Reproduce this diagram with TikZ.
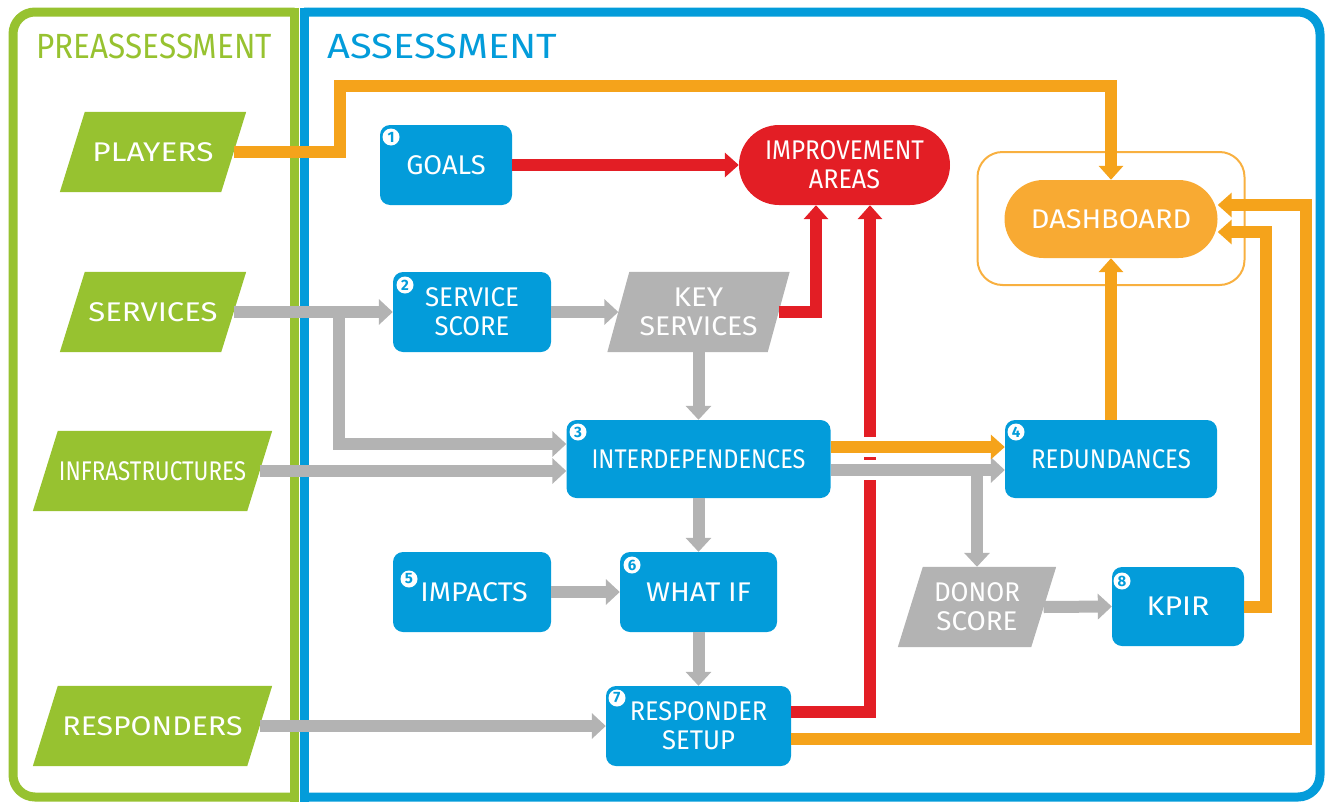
\documentclass[tikz,border=0pt]{standalone}
\usepackage{fontspec}
\setmainfont{Fira Sans}
\usetikzlibrary{arrows.meta,shapes.misc}
\definecolor{greenc}{HTML}{97C230}
\definecolor{bluec}{HTML}{039CDA}
\definecolor{redc}{HTML}{E31E25}
\definecolor{orangec}{HTML}{F5A31B}
\definecolor{dashc}{HTML}{F8AA33}
\definecolor{dashframec}{HTML}{F8B040}
\definecolor{grayc}{HTML}{B3B3B3}
\pgfdeclarelayer{bg}
\pgfsetlayers{bg,main}
\newcommand\sx[2]{\scalebox{#1}[1]{#2}}
\newcommand\paraFill[3]{%
  \begin{pgfonlayer}{bg}
  \fill[#3] ([xshift=#2]#1.north west) -- ([xshift=#2]#1.north east) -- ([xshift=-#2]#1.south east) -- ([xshift=-#2]#1.south west) -- cycle;
  \end{pgfonlayer}}
\begin{document}
\begin{tikzpicture}[x=1pt,y=-1pt,
  txt/.style={font=\fontsize{27}{29}\selectfont, text=white, align=center},
  bbox/.style={txt, fill=bluec, rounded corners=10pt, inner sep=0pt, minimum height=80pt},
  stad/.style={txt, rounded rectangle, inner sep=0pt, minimum height=80pt},
  para/.style={txt, inner sep=0pt, minimum height=80pt},
  badge/.style={circle, fill=white, inner sep=0pt, minimum size=17pt, text=bluec, font=\bfseries\fontsize{15}{15}\selectfont},
  title/.style={font=\fontsize{35}{35}\selectfont, anchor=west},
  conn/.style={line width=12pt},
  garrow/.style={conn, draw=grayc, -{Triangle[length=14pt,width=25pt]}},
  rarrow/.style={conn, draw=redc, -{Triangle[length=14pt,width=24pt]}},
  oarrow/.style={conn, draw=orangec, -{Triangle[length=14pt,width=24pt]}},
  gap/.style={draw=white, line width=20pt}
]
\useasboundingbox (0,0) rectangle (1325,803);
% frames
\begin{pgfonlayer}{bg}
\draw[greenc, line width=9pt, rounded corners=22pt] (294.5,12) -- (13,12) -- (13,797) -- (294.5,797);
\draw[greenc, line width=9pt] (294.5,7.5) -- (294.5,801.5);
\draw[bluec, line width=9pt, rounded corners=22pt] (304,12) -- (1320,12) -- (1320,797) -- (304,797);
\draw[bluec, line width=9pt] (304,7.5) -- (304,801.5);
\end{pgfonlayer}
\node[title, text=greenc] (pretitle) at (33,46) {\sx{0.9}{PREASSESSMENT}};
\node[title, text=bluec] (asstitle) at (324,46) {\sx{1.14}{ASSESSMENT}};

% preassessment inputs
\node[para, minimum width=161pt] (players) at (153,152) {\sx{1.17}{PLAYERS}};
\paraFill{players}{12.5pt}{greenc}
\node[para, minimum width=161pt] (services) at (153,312) {\sx{1.15}{SERVICES}};
\paraFill{services}{12.5pt}{greenc}
\node[para, minimum width=214pt] (infra) at (152.5,471) {\sx{0.83}{INFRASTRUCTURES}};
\paraFill{infra}{12.5pt}{greenc}
\node[para, minimum width=214pt] (responders) at (152.5,726) {\sx{1.12}{RESPONDERS}};
\paraFill{responders}{12.5pt}{greenc}

% gray data
\node[para, minimum width=160pt] (keysvc) at (698.5,312) {\sx{1.1}{KEY}\\\sx{1.05}{SERVICES}};
\paraFill{keysvc}{11pt}{grayc}
\node[para, minimum width=133pt] (donor) at (977,607) {\sx{0.96}{DONOR}\\\sx{1.03}{SCORE}};
\paraFill{donor}{12.5pt}{grayc}

% blue steps
\node[bbox, minimum width=132pt] (goals) at (446,165) {\sx{1.01}{GOALS}};
\node[bbox, minimum width=158pt] (svcscore) at (472,312) {\sx{0.96}{SERVICE}\\\sx{0.95}{SCORE}};
\node[bbox, minimum width=264pt, minimum height=78pt] (interdep) at (698.5,459) {\sx{0.87}{INTERDEPENDENCES}};
\node[bbox, minimum width=212pt, minimum height=78pt] (redund) at (1111,459) {\sx{0.89}{REDUNDANCES}};
\node[bbox, minimum width=158pt] (impacts) at (472,592) {\hspace*{4pt}\sx{1.06}{IMPACTS}};
\node[bbox, minimum width=157pt] (whatif) at (698.5,592) {\sx{1.08}{WHAT IF}};
\node[bbox, minimum width=185pt] (respsetup) at (698.5,726) {\sx{0.94}{RESPONDER}\\\sx{0.95}{SETUP}};
\node[bbox, minimum width=132pt, minimum height=79pt] (kpir) at (1178,606.5) {\sx{1.12}{KPIR}};

% outputs
\node[stad, fill=redc, minimum width=211pt] (impr) at (844.5,165) {\sx{0.9}{IMPROVEMENT}\\\sx{0.93}{AREAS}};
\node[draw=dashframec, line width=2pt, rounded corners=25pt, minimum width=267pt, minimum height=133pt] (dashframe) at (1111,218.5) {};
\node[stad, fill=dashc, minimum width=213pt, minimum height=78pt] (dash) at (1111,219) {\sx{1.07}{DASHBOARD}};

% badges
\node[badge] (b1) at (391,137) {1};
\node[badge] (b2) at (405,285) {2};
\node[badge] (b3) at (578,432) {3};
\node[badge] (b4) at (1016,432) {4};
\node[badge] (b5) at (409,579) {5};
\node[badge] (b6) at (632,565) {6};
\node[badge] (b7) at (617,698) {7};
\node[badge] (b8) at (1122,581) {8};

% red connectors
\draw[rarrow] (goals.east) -- (impr.west);
\draw[rarrow] (keysvc.east) -| ([xshift=-28.5pt]impr.south);
\draw[rarrow] ([yshift=14pt]respsetup.east) -| ([xshift=25.5pt]impr.south);

% gaps where the red line passes under
\draw[gap] (855,447) -- (885,447);
\draw[gap] (855,470) -- (885,470);

% gray connectors
\draw[garrow] (services.east) -- (svcscore.west);
\coordinate (ssplit) at (339,312);
\draw[garrow] (ssplit) |- ([yshift=15pt]interdep.west);
\draw[garrow] (infra.east) -- (infra.east -| interdep.west);
\draw[garrow] (svcscore.east) -- (keysvc.west);
\draw[garrow] (keysvc.south) -- (keysvc.south |- interdep.north);
\draw[garrow] (interdep.south) -- (whatif.north);
\draw[garrow] (impacts.east) -- (whatif.west);
\draw[garrow] (whatif.south) -- (respsetup.north);
\draw[garrow] (responders.east) -- (respsetup.west);
\draw[garrow] ([yshift=-11pt]interdep.east) -- ([yshift=-11pt]redund.west);
\coordinate (dsplit) at (977,470);
\draw[garrow] (dsplit) -- (donor.north);
\draw[garrow] (donor.east) -- (kpir.west);

% orange connectors
\draw[oarrow] (players.east) -- (340,152) -- (340,86) -| (dash.north);
\draw[oarrow] ([yshift=12pt]interdep.east) -- ([yshift=12pt]redund.west);
\draw[oarrow] (redund.north) -- (dash.south);
\draw[oarrow] (kpir.east) -- (1266,606.5) |- ([yshift=-13pt]dash.east);
\draw[oarrow] ([yshift=-13pt]respsetup.east) -- (1306,739) |- ([yshift=14pt]dash.east);
\end{tikzpicture}
\end{document}
